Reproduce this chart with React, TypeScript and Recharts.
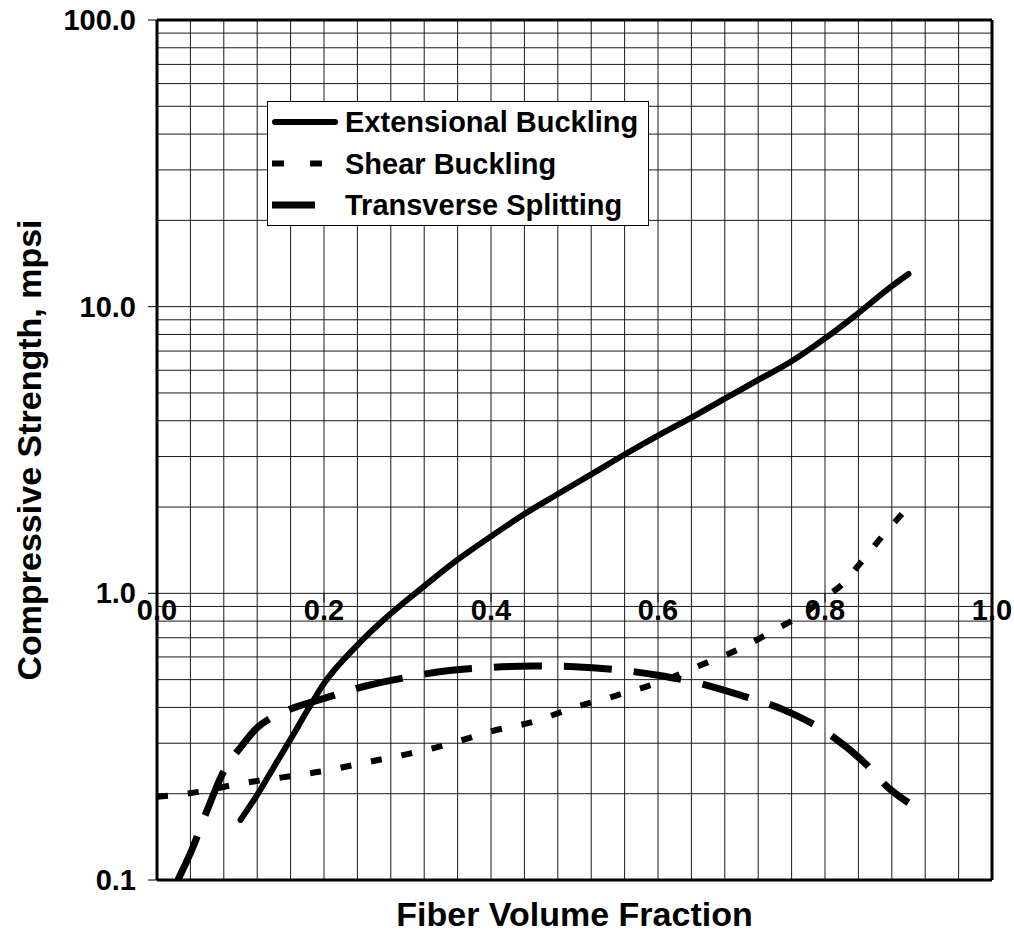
import React from 'react';
import {
  LineChart,
  Line,
  XAxis,
  YAxis,
  CartesianGrid,
  Legend,
  ReferenceLine
} from 'recharts';

// Fiber volume fraction vs compressive strength (mpsi)
const extensionalX = [0.10, 0.12, 0.14, 0.16, 0.18, 0.20, 0.24, 0.28, 0.32, 0.36, 0.40, 0.44, 0.48, 0.52, 0.56, 0.60, 0.64, 0.68, 0.72, 0.76, 0.80, 0.84, 0.88, 0.90];
const extensionalY = [0.162, 0.198, 0.248, 0.31, 0.39, 0.485, 0.66, 0.85, 1.06, 1.31, 1.58, 1.89, 2.22, 2.60, 3.05, 3.55, 4.10, 4.78, 5.55, 6.45, 7.75, 9.50, 11.8, 13.0];

const shearX = [0.00, 0.05, 0.10, 0.15, 0.20, 0.25, 0.30, 0.35, 0.40, 0.45, 0.50, 0.55, 0.60, 0.65, 0.70, 0.74, 0.78, 0.80, 0.82, 0.84, 0.87, 0.90];
const shearY = [0.195, 0.203, 0.217, 0.228, 0.240, 0.257, 0.275, 0.298, 0.330, 0.356, 0.400, 0.440, 0.488, 0.560, 0.645, 0.745, 0.870, 0.970, 1.07, 1.25, 1.60, 2.00];

const transverseX = [0.025, 0.04, 0.06, 0.08, 0.10, 0.12, 0.14, 0.16, 0.20, 0.25, 0.30, 0.35, 0.40, 0.45, 0.50, 0.55, 0.60, 0.65, 0.70, 0.75, 0.80, 0.85, 0.875, 0.90];
const transverseY = [0.100, 0.124, 0.175, 0.240, 0.290, 0.340, 0.372, 0.395, 0.430, 0.475, 0.510, 0.538, 0.552, 0.558, 0.555, 0.542, 0.518, 0.485, 0.440, 0.393, 0.330, 0.252, 0.211, 0.186];

const yDecades = [0.1, 1, 10, 100];
const xMajor = [0, 0.2, 0.4, 0.6, 0.8, 1.0];
const xStep = 0.04;

const toPoints = (xs: number[], ys: number[]) => xs.map((x, i) => ({ x, y: ys[i] }));

const extensional = toPoints(extensionalX, extensionalY);
const shear = toPoints(shearX, shearY);
const transverse = toPoints(transverseX, transverseY);

// log grid: 1..9 in every decade
const yGrid: number[] = [];
yDecades.slice(0, -1).forEach((d) => {
  for (let k = 1; k < 10; k++) yGrid.push(+(d * k).toPrecision(3));
});
yGrid.push(100);

const xGrid: number[] = [];
for (let i = 0; i <= Math.round(1 / xStep); i++) xGrid.push(+(i * xStep).toFixed(2));

const WIDTH = 1014;
const HEIGHT = 947;
const MARGIN = { top: 20, right: 22, left: 0, bottom: 0 };
const Y_AXIS_W = 157;
const X_AXIS_H = 67;
const PLOT_H = HEIGHT - MARGIN.top - MARGIN.bottom - X_AXIS_H;

const FONT = '"Liberation Sans", Arial, sans-serif';

const isDecade = (v: number) => yDecades.some((d) => Math.abs(d - v) < 1e-9);
const isMajorX = (v: number) => xMajor.some((d) => Math.abs(d - v) < 1e-9);

const YTick = (props: any) => {
  const { y, payload } = props;
  if (!isDecade(payload.value)) return null;
  return (
    <g>
      <line x1={Y_AXIS_W - 9} x2={Y_AXIS_W} y1={y} y2={y} stroke="#000" strokeWidth={1} />
      <text
        x={Y_AXIS_W - 21}
        y={y}
        textAnchor="end"
        dominantBaseline="central"
        fontFamily={FONT}
        fontWeight="bold"
        fontSize={29}
        fill="#000"
      >
        {payload.value.toFixed(1)}
      </text>
    </g>
  );
};

// x labels sit under the y = 1.0 line, where the axis crosses
const XTick = (props: any) => {
  const { x, y, payload } = props;
  if (!isMajorX(payload.value)) return null;
  const crossY = y - PLOT_H / 3;
  return (
    <g>
      <line x1={x} x2={x} y1={crossY} y2={crossY + 9} stroke="#000" strokeWidth={1} />
      <text
        x={x}
        y={crossY + 27}
        textAnchor="middle"
        fontFamily={FONT}
        fontWeight="bold"
        fontSize={29}
        fill="#000"
      >
        {payload.value.toFixed(1)}
      </text>
    </g>
  );
};

const legendItems = [
  { name: 'Extensional Buckling', kind: 'solid' },
  { name: 'Shear Buckling', kind: 'short' },
  { name: 'Transverse Splitting', kind: 'long' }
];

const renderLegend = () => (
  <svg width={382} height={125} style={{ display: 'block' }}>
    <rect x={0.5} y={0.5} width={381} height={124} fill="#fff" stroke="#000" strokeWidth={1} />
    {legendItems.map((item, i) => {
      const cy = 21 + i * 41.5;
      return (
        <g key={item.name}>
          {item.kind === 'solid' && (
            <line x1={8} x2={68} y1={cy} y2={cy} stroke="#000" strokeWidth={6} strokeLinecap="round" />
          )}
          {item.kind === 'short' && (
            <line x1={5} x2={72} y1={cy} y2={cy} stroke="#000" strokeWidth={6} strokeDasharray="12 26" />
          )}
          {item.kind === 'long' && (
            <line x1={5} x2={48} y1={cy} y2={cy} stroke="#000" strokeWidth={7} />
          )}
          <text
            x={78}
            y={cy}
            dominantBaseline="central"
            fontFamily={FONT}
            fontWeight="bold"
            fontSize={29}
            fill="#000"
          >
            {item.name}
          </text>
        </g>
      );
    })}
  </svg>
);

const App: React.FC = () => {
  return (
    <div style={{ position: 'absolute', left: 0, top: 0, background: '#fff' }}>
      <LineChart width={WIDTH} height={HEIGHT} margin={MARGIN}>
        <CartesianGrid stroke="#1a1a1a" strokeWidth={1} />
        <XAxis
          type="number"
          dataKey="x"
          domain={[0, 1]}
          ticks={xGrid}
          interval={0}
          height={X_AXIS_H}
          tickLine={false}
          tickSize={0}
          tickMargin={0}
          tick={<XTick />}
          axisLine={{ stroke: '#000', strokeWidth: 3 }}
          allowDataOverflow
          label={{
            value: 'Fiber Volume Fraction',
            position: 'center',
            dy: 0,
            style: { fontFamily: FONT, fontWeight: 'bold', fontSize: 34, fill: '#000' }
          }}
        />
        <YAxis
          type="number"
          scale="log"
          domain={[0.1, 100]}
          ticks={yGrid}
          interval={0}
          width={Y_AXIS_W}
          tickLine={false}
          tick={<YTick />}
          axisLine={{ stroke: '#000', strokeWidth: 3 }}
          allowDataOverflow
          label={{
            value: 'Compressive Strength, mpsi',
            angle: -90,
            position: 'center',
            dx: -50,
            style: { fontFamily: FONT, fontWeight: 'bold', fontSize: 34, fill: '#000' }
          }}
        />
        <ReferenceLine y={100} stroke="#000" strokeWidth={3} />
        <ReferenceLine x={1} stroke="#000" strokeWidth={3} />
        <Line
          data={transverse}
          dataKey="y"
          name="Transverse Splitting"
          type="monotone"
          stroke="#000"
          strokeWidth={7}
          strokeDasharray="48 22"
          dot={false}
          isAnimationActive={false}
        />
        <Line
          data={shear}
          dataKey="y"
          name="Shear Buckling"
          type="monotone"
          stroke="#000"
          strokeWidth={6}
          strokeDasharray="11 20"
          dot={false}
          isAnimationActive={false}
        />
        <Line
          data={extensional}
          dataKey="y"
          name="Extensional Buckling"
          type="monotone"
          stroke="#000"
          strokeWidth={6}
          strokeLinecap="round"
          dot={false}
          isAnimationActive={false}
        />
        <Legend
          layout="vertical"
          align="center"
          verticalAlign="middle"
          content={renderLegend}
          wrapperStyle={{ left: 267, top: 101, width: 382, height: 125 }}
        />
      </LineChart>
    </div>
  );
};

export default App;
